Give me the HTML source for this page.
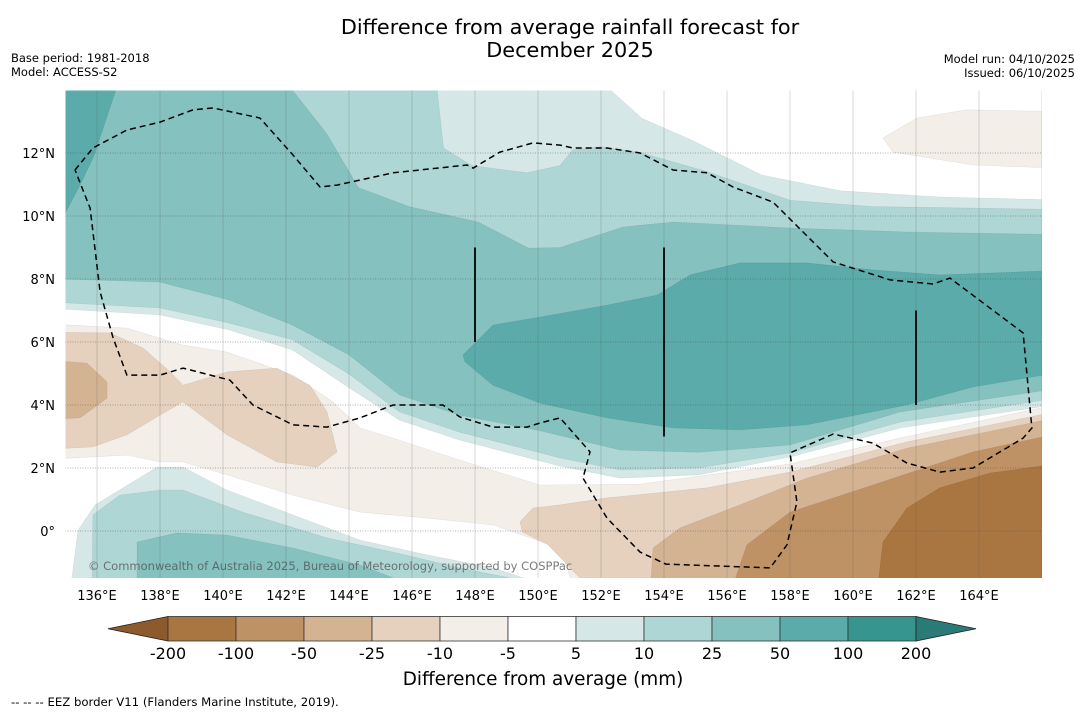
<!DOCTYPE html>
<html><head><meta charset="utf-8">
<style>
html,body{margin:0;padding:0;background:#fff;}
body{width:1085px;height:713px;overflow:hidden;font-family:"DejaVu Sans","Liberation Sans",sans-serif;}
svg text{font-family:"DejaVu Sans","Liberation Sans",sans-serif;}
</style></head>
<body>
<svg id="chart" width="1085" height="713" viewBox="0 0 1085 713" xmlns="http://www.w3.org/2000/svg">
<text x="570" y="34" font-size="20.8" text-anchor="middle" fill="#000">Difference from average rainfall forecast for</text>
<text x="570" y="57" font-size="20.8" text-anchor="middle" fill="#000">December 2025</text>
<text x="11" y="62" font-size="11.5">Base period: 1981-2018</text>
<text x="11" y="76" font-size="11.5">Model: ACCESS-S2</text>
<text x="1075" y="63" font-size="11.5" text-anchor="end">Model run: 04/10/2025</text>
<text x="1075" y="77" font-size="11.5" text-anchor="end">Issued: 06/10/2025</text>
<defs><clipPath id="mapclip"><rect x="65.5" y="90.5" width="976.5" height="487.5"/></clipPath></defs>
<g id="map" clip-path="url(#mapclip)"></g>
<g id="axes"></g>
<g id="cbar"></g>
<text x="543" y="685" font-size="18.4" text-anchor="middle">Difference from average (mm)</text>
<text x="11" y="706" font-size="11.7">--  --  -- EEZ border V11 (Flanders Marine Institute, 2019).</text>
</svg>
<script>
const lonTicks=[136,138,140,142,144,146,148,150,152,154,156,158,160,162,164];
const latTicks=[0,2,4,6,8,10,12];
const levelLabels=["-200","-100","-50","-25","-10","-5","5","10","25","50","100","200"];
const levelColors=["#a97540","#bf9265","#d4b393","#e5d1be","#f3eee8","#ffffff","#d5e8e7","#aed6d5","#84c1bf","#5aabaa","#36968f"];
const T5=[[134,15],[152.4,15],[152.3,14],[153.3,13.1],[154.9,12.4],[157.1,11.3],[159.6,10.8],[162.8,10.6],[167,10.5],[167,4.1],[161.5,3.27],[158,2.35],[155.1,1.78],[152.6,1.68],[150.7,2.06],[147.5,2.89],[145.6,3.52],[144,4.55],[142.2,5.75],[140.2,6.38],[138,6.86],[134,7.1]];
const T10=[[134,15],[146.8,15],[146.8,14],[147.0,12.16],[147.9,11.6],[149.65,11.37],[150.7,11.6],[151.1,12.1],[152.0,12.2],[153.2,12.03],[155.4,11.4],[158,10.5],[160.6,10.3],[167,10.2],[167,4.3],[161.5,3.46],[158,2.48],[155.1,2.0],[152.6,1.94],[150.7,2.32],[147.5,3.14],[145.6,3.78],[144,4.98],[142.2,6.07],[140.2,6.6],[138,7.08],[134,7.3]];
const T25=[[134,15],[142.2,15],[142.2,14],[143.3,12.6],[144.3,10.9],[145.9,10.3],[148.1,9.81],[149.7,8.98],[150.7,9.0],[152.7,9.65],[154.3,9.81],[158,9.62],[161.8,9.49],[167,9.4],[167,4.6],[161.5,3.78],[158,2.73],[155.1,2.5],[152.6,2.57],[150,3.2],[147.5,3.68],[145.6,4.32],[144,5.59],[142.2,6.54],[140.2,7.33],[138,7.9],[134,8.03]];
const T50a=[[147.62,5.59],[148.57,6.54],[150.06,6.79],[152.19,7.17],[153.78,7.49],[154.83,8.13],[156.41,8.51],[158.54,8.51],[160.63,8.29],[162.76,8.13],[167,8.29],[167,5.11],[163.81,4.57],[161.71,4.0],[158.54,3.37],[156.41,3.21],[154.29,3.27],[152.19,3.59],[150.06,4.06],[148.57,4.63],[147.68,5.37]];
const T50b=[[134,15],[136.6,15],[136.6,14],[135.9,11.9],[135.46,10.98],[135,10.1],[134,9.8]];
const S5=[[135.2,-2],[135.2,-1.5],[135.4,0.03],[135.94,0.83],[137.91,2.03],[138.73,2.03],[140.13,1.30],[142.22,0.51],[144.35,-0.29],[146.48,-0.76],[148.57,-1.17],[149.75,-1.56],[149.8,-2]];
const S10=[[135.84,-2],[135.87,0.51],[136.73,1.14],[138.0,1.30],[138.73,1.30],[140.63,0.60],[143.30,-0.22],[145.40,-0.67],[147.52,-1.17],[149.11,-1.49],[149.2,-2]];
const S25=[[137.27,-2],[137.27,-0.35],[138.54,-0.06],[140.13,-0.13],[142.22,-0.54],[144.35,-1.08],[145.40,-1.49],[145.4,-2]];
const B5=[[134,6.6],[136.95,6.44],[138.73,5.90],[140.13,5.68],[142.22,4.95],[143.49,4.10],[144.35,3.27],[145.40,2.95],[147.52,2.25],[150.06,1.46],[153.24,1.49],[158.0,2.13],[161.49,2.95],[167,4.13],[167,-2],[151.2,-2],[150.70,-0.54],[148.57,0.19],[146.48,0.41],[144.35,0.60],[142.22,1.14],[140.13,1.78],[138.73,2.19],[138.0,2.19],[136.95,2.41],[134,2.25]];
const B5ne=[[160.95,12.48],[162.03,13.11],[163.62,13.37],[167,13.3],[167,11.5],[163.81,11.62],[161.27,12.03]];
const B10w=[[134,6.32],[136.41,6.29],[137.46,5.81],[138.32,5.05],[138.73,4.63],[140.13,5.05],[141.71,5.17],[142.76,4.63],[143.30,3.78],[143.62,2.51],[142.98,2.03],[141.71,2.19],[140.13,3.05],[138.73,4.10],[138.0,3.68],[136.95,3.05],[135.87,2.67],[134,2.57]];
const B25w=[[134,5.46],[135.68,5.33],[136.32,4.73],[136.32,4.22],[135.46,3.59],[134,3.52]];
const B10e=[[149.5,-0.03],[149.43,0.29],[149.84,0.73],[150.70,0.83],[152.19,1.05],[155.37,1.37],[158.0,1.87],[161.71,2.83],[167,3.9],[167,-2],[151.4,-2],[151.33,-1.49],[150.32,-0.44]];
const B25e=[[153.56,-2],[153.65,-0.54],[154.51,0.10],[156.41,0.83],[158.54,1.68],[161.71,2.63],[167,3.7],[167,-2]];
const B50e=[[156.1,-2],[156.63,-0.44],[158.0,0.60],[160.63,1.46],[163.81,2.51],[167,3.2],[167,-2]];
const B100e=[[160.76,-2],[160.95,-0.35],[161.71,0.73],[162.76,1.37],[164.35,1.84],[167,2.2],[167,-2]];
const eez=[[135.30,11.46],[135.87,12.16],[136.95,12.73],[138.0,12.98],[139.05,13.37],[139.68,13.43],[141.17,13.11],[142.22,11.94],[143.08,10.92],[143.62,10.98],[145.40,11.37],[147.75,11.62],[147.94,11.52],[148.79,12.03],[149.84,12.32],[150.70,12.25],[151.11,12.16],[152.19,12.16],[153.24,12.0],[154.29,11.46],[155.37,11.37],[156.19,10.92],[157.46,10.44],[159.37,8.54],[161.18,7.97],[162.54,7.84],[163.08,8.03],[165.40,6.29],[165.68,3.27],[165.40,2.95],[163.81,2.0],[162.76,1.87],[161.71,2.16],[160.63,2.79],[159.37,3.08],[158.0,2.48],[158.22,0.92],[157.90,-0.44],[157.37,-1.17],[154.06,-1.05],[153.24,-0.67],[152.19,0.41],[151.43,1.68],[151.65,2.51],[150.70,3.59],[150.06,3.43],[149.65,3.30],[148.57,3.30],[147.52,3.62],[146.98,4.0],[145.40,4.0],[144.35,3.59],[143.30,3.30],[142.22,3.37],[140.95,4.0],[140.22,4.79],[138.73,5.17],[138.0,4.95],[136.95,4.95],[136.51,6.13],[136.10,7.59],[135.78,10.25],[135.30,11.46]];
const eezSegments=[[148,9,6],[154,9,3],[162,7,4]];

const NS='http://www.w3.org/2000/svg';
const X=lon=>65.5+(lon-135)*31.5;
const Y=lat=>531-lat*31.5;
function mk(tag,attrs,parent){const e=document.createElementNS(NS,tag);for(const k in attrs)e.setAttribute(k,attrs[k]);parent.appendChild(e);return e;}
const map=document.getElementById('map');
const axes=document.getElementById('axes');
const cbar=document.getElementById('cbar');
function ptsStr(arr){return arr.map(p=>X(p[0]).toFixed(1)+','+Y(p[1]).toFixed(1)).join(' ');}
const layers=[[T5,6,'contour-5mm-north'],[T10,7,'contour-10mm-north'],[T25,8,'contour-25mm-north'],[T50a,9,'contour-50mm-central'],[T50b,9,'contour-50mm-northwest'],
[S5,6,'contour-5mm-south'],[S10,7,'contour-10mm-south'],[S25,8,'contour-25mm-south'],
[B5,4,'contour-minus5mm-band'],[B5ne,4,'contour-minus5mm-northeast'],[B10w,3,'contour-minus10mm-west'],[B25w,2,'contour-minus25mm-west'],
[B10e,3,'contour-minus10mm-southeast'],[B25e,2,'contour-minus25mm-southeast'],[B50e,1,'contour-minus50mm-southeast'],[B100e,0,'contour-minus100mm-southeast']];
mk('rect',{x:65.5,y:90.5,width:977,height:488,fill:'#fff'},map);
for(const [arr,ci,name] of layers){
  const p=mk('polygon',{points:ptsStr(arr),fill:levelColors[ci],stroke:'rgba(0,0,0,0.08)','stroke-width':0.6},map);
  
  
}
for(const lon of [136,138,140,142,144,146,148,150,152,154,156,158,160,162,164,166]){
  const l=mk('line',{x1:X(lon),x2:X(lon),y1:90,y2:578,stroke:'rgba(90,90,90,0.33)','stroke-width':0.7},map);
  
  
}
for(const lat of latTicks){
  const l=mk('line',{x1:65,x2:1042,y1:Y(lat),y2:Y(lat),stroke:'rgba(80,80,80,0.6)','stroke-width':0.8,'stroke-dasharray':'1,1.5'},map);
  
  
}
const ez=mk('polyline',{points:ptsStr(eez),fill:'none',stroke:'#000','stroke-width':1.5,'stroke-dasharray':'6,4'},map);


for(const s of eezSegments){
  const l=mk('line',{x1:X(s[0]),x2:X(s[0]),y1:Y(s[1]),y2:Y(s[2]),stroke:'#111','stroke-width':2},map);
  
  
}
const cp=mk('text',{x:88,y:570,'font-size':11.5,fill:'rgba(80,80,80,0.75)'},map);
cp.textContent='© Commonwealth of Australia 2025, Bureau of Meteorology, supported by COSPPac';


for(const lon of lonTicks){
  const t=mk('text',{x:X(lon),y:600,'font-size':13,'text-anchor':'middle'},axes);
  t.textContent=lon+'°E';
  
  
}
for(const lat of latTicks){
  const t=mk('text',{x:55,y:Y(lat)+5,'font-size':13,'text-anchor':'end'},axes);
  t.textContent=lat===0?'0°':lat+'°N';
  
  
}
const cx0=168,cw=68,cy=616.5,ch=24.5;
const lt=mk('polygon',{points:`108,${cy+ch/2} ${cx0},${cy} ${cx0},${cy+ch}`,fill:'#8c5a2b',stroke:'#222','stroke-width':0.8},cbar);


for(let i=0;i<levelColors.length;i++){
  const r=mk('rect',{x:cx0+i*cw,y:cy,width:cw,height:ch,fill:levelColors[i],stroke:'#333','stroke-width':0.8},cbar);
  
  
}
const xe=cx0+levelColors.length*cw;
const rt=mk('polygon',{points:`${xe},${cy} ${xe+60},${cy+ch/2} ${xe},${cy+ch}`,fill:'#2a7a78',stroke:'#222','stroke-width':0.8},cbar);


levelLabels.forEach((lab,i)=>{
  const t=mk('text',{x:cx0+i*cw,y:659,'font-size':16,'text-anchor':'middle'},cbar);
  t.textContent=lab;
  
  
});
</script>
</body></html>
